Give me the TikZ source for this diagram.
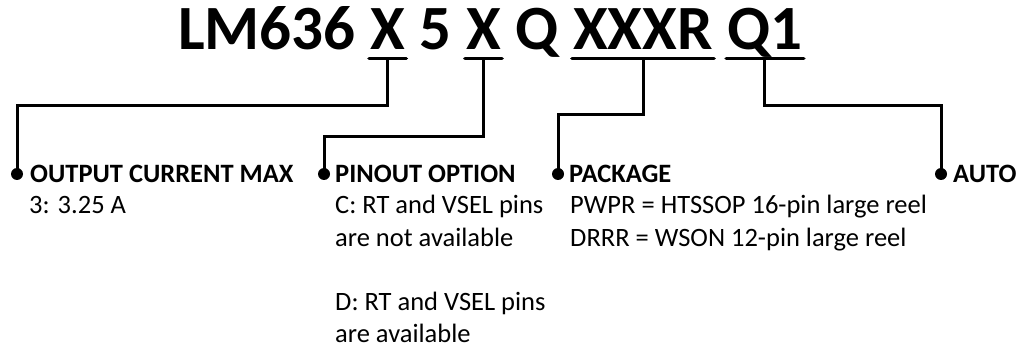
\documentclass[tikz,border=0pt]{standalone}
\usepackage{fontspec}
\usetikzlibrary{calc}
\setmainfont{Carlito}
\begin{document}
\begin{tikzpicture}[x=1pt,y=-1pt,
  ttl/.style={inner sep=0pt,anchor=base west,font=\fontsize{63}{63}\selectfont\bfseries},
  hdr/.style={inner sep=0pt,anchor=base west,font=\fontsize{26.5}{30}\selectfont\bfseries},
  body/.style={inner sep=0pt,anchor=base west,font=\fontsize{26.5}{30}\selectfont},
  uline/.style={line width=3.8pt,line cap=round},
  conn/.style={line width=3pt},
  dotn/.style={circle,fill=black,inner sep=0pt,minimum size=12pt}]
\useasboundingbox (0,0) rectangle (1016,347);
% title
\node[ttl] (t1) at (178,50) {LM636};
\node[ttl] (x1) at ([xshift=14.2pt]t1.base east) {X};
\node[ttl] (t5) at ([xshift=14.2pt]x1.base east) {5};
\node[ttl] (x2) at ([xshift=14.2pt]t5.base east) {X};
\node[ttl] (tq) at ([xshift=14.2pt]x2.base east) {Q};
\node[ttl] (x3) at ([xshift=14.2pt]tq.base east) {XXXR};
\node[ttl] (q1) at ([xshift=14.2pt]x3.base east) {Q1};
% underlines
\foreach \n in {x1,x2,x3,q1}{
  \draw[uline] ($(\n.base west)+(-1,8.5)$) -- ($(\n.base east)+(1,8.5)$);
  \coordinate (u\n) at ($(\n.base west)!0.5!(\n.base east)+(0,8.5)$);
}
% dots
\node[dotn] (d1) at (17,174) {};
\node[dotn] (d2) at (324,174) {};
\node[dotn] (d3) at (558,174) {};
\node[dotn] (d4) at (941,174) {};
\coordinate (h1) at (17,106);
\coordinate (h2) at (324,137);
\coordinate (h3) at (558,115);
\coordinate (h4) at (941,106);
\draw[conn] (ux1) |- (h1) -- (d1.center);
\draw[conn] (ux2) |- (h2) -- (d2.center);
\draw[conn] (ux3) |- (h3) -- (d3.center);
\draw[conn] (uq1) |- (h4) -- (d4.center);
% texts
\node[hdr] (a1) at (30,183) {OUTPUT CURRENT MAX};
\node[body] (a2) at (29,214) {3: 3.25 A};
\node[hdr] (b1) at (335,183) {PINOUT OPTION};
\node[body] (b2) at (335,214) {C: RT and VSEL pins};
\node[body] (b3) at (335,246) {are not available};
\node[body] (b4) at (335,310) {D: RT and VSEL pins};
\node[body] (b5) at (335,342) {are available};
\node[hdr] (c1) at (569,183) {PACKAGE};
\node[body] (c2) at (570,214) {PWPR = HTSSOP 16-pin large reel};
\node[body] (c3) at (570,246) {DRRR = WSON 12-pin large reel};
\node[hdr] (e1) at (953,183) {AUTO};
\end{tikzpicture}
\end{document}
